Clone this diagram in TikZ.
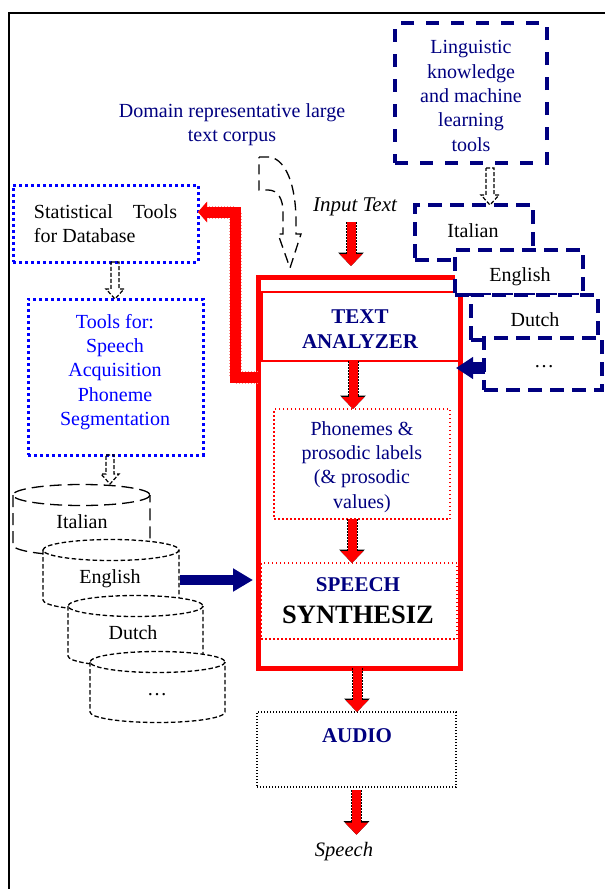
\documentclass[tikz,border=0pt]{standalone}
\usepackage{fontspec}
\setmainfont{Liberation Serif}
\usetikzlibrary{arrows.meta,calc}
\definecolor{navy}{RGB}{0,0,128}
\definecolor{brightblue}{RGB}{0,0,255}

% hollow dashed block arrow pointing down, from #1 to the height of #2
\newcommand\hollowdown[2]{%
  \draw[hollow] let \p1=(#1), \p2=(#2) in
    (\x1-4pt,\y1) -- (\x1+4pt,\y1) -- (\x1+4pt,\y2+10pt) -- (\x1+9pt,\y2+10pt)
    -- (\x1,\y2) -- (\x1-9pt,\y2+10pt) -- (\x1-4pt,\y2+10pt) -- cycle;}

% database drum: centre x, top y, bottom y, half width, line style
\newcommand\drum[5]{%
  \fill[white] (#1-#4,#2) -- (#1-#4,#3)
     arc[start angle=180,end angle=0,x radius=#4,y radius=10.5]
     -- (#1+#4,#2)
     arc[start angle=0,end angle=-180,x radius=#4,y radius=10.5] -- cycle;
  \draw[#5] (#1-#4,#2) -- (#1-#4,#3)
     arc[start angle=180,end angle=0,x radius=#4,y radius=10.5] -- (#1+#4,#2);
  \draw[#5] (#1,#2) ellipse[x radius=#4,y radius=10.5];}

\tikzset{
  lbl/.style={inner sep=0pt, outer sep=0pt, align=center, font=\fontsize{20}{24.3}\selectfont},
  hdr/.style={lbl, text=navy, font=\fontsize{21}{24.3}\selectfont\bfseries},
  shell/.style={inner sep=0pt, outer sep=0pt},
  navydash/.style={shell, draw=navy, line width=3.7pt, dash pattern=on 13pt off 12pt},
  langbox/.style={shell, draw=navy, fill=white, line width=4pt, dash pattern=on 14pt off 8pt},
  bluedot/.style={shell, draw=brightblue, line width=3pt, dash pattern=on 3pt off 3pt},
  reddot/.style={shell, draw=red, line width=1.5pt, dash pattern=on 1.5pt off 2.5pt},
  blackdot/.style={shell, draw=black, line width=1.3pt, dash pattern=on 1.3pt off 1.7pt},
  redframe/.style={shell, draw=red, line width=5pt},
  hollow/.style={draw=black, line width=1.2pt, dash pattern=on 4pt off 2pt},
  corpusdash/.style={draw=black, line width=1.3pt, dash pattern=on 10pt off 6pt},
  longdash/.style={draw=black, line width=1.3pt, dash pattern=on 12pt off 6pt},
  shortdash/.style={draw=black, line width=1.3pt, dash pattern=on 4.5pt off 2.5pt},
  redblk/.style={draw=red, line width=9pt, -{Triangle[length=12pt,width=22pt]},
     preaction={draw=black, line width=11pt, dash pattern=on 1.5pt off 1.5pt,
                -{Triangle[length=13.5pt,width=25pt]}}},
  navyblk/.style={draw=navy, line width=10pt, -{Triangle[length=20pt,width=22pt]}},
  redbend/.style={draw=red, line width=11pt, -{Triangle[length=9pt,width=20pt]},
     preaction={draw=red!45, line width=13pt, dash pattern=on 1.5pt off 1.5pt}},
}

\begin{document}
\begin{tikzpicture}[x=1pt,y=-1pt]
\useasboundingbox (0,0) rectangle (605,889);

% page frame
\draw[line width=1.6pt] (9,889) -- (9,13) -- (605,13);

% linguistic knowledge
\node[navydash, minimum width=152pt, minimum height=140pt] (ling) at (471,93) {};
\node[lbl, text=navy] (lingT) at (471,96) {Linguistic\\knowledge\\and machine\\learning\\tools};

% text corpus and its arrow
\node[lbl, text=navy] (dom) at (232,125) {Domain representative large\\text corpus};
\draw[corpusdash] (259,157) -- (270,157) .. controls (286,160) and (296,185) .. (296,222)
  -- (296,234) -- (301,234) -- (290,268) -- (278,234) -- (283,234) -- (283,212)
  .. controls (283,199) and (278,190) .. (268,190) -- (259,190) -- cycle;

\node[lbl, font=\fontsize{21}{24}\selectfont\itshape] (inp) at (355,207) {Input Text};

% database tools
\node[bluedot, minimum width=185pt, minimum height=77pt] (stat) at (105.5,223.5) {};
\node[lbl, align=left, anchor=west] (statT) at (34,223.5)
  {\makebox[143pt][l]{Statistical\hfill Tools}\\for Database};
\node[bluedot, minimum width=175pt, minimum height=156pt] (tools) at (115.5,377) {};
\node[lbl, text=brightblue] (toolsT) at (115,372)
  {Tools for:\\Speech\\Acquisition\\Phoneme\\Segmentation};

% synthesis system
\node[redframe, minimum width=202pt, minimum height=391pt] (sys) at (359,472.5) {};
\node[shell, draw=red, line width=2.5pt, minimum width=198pt, minimum height=69pt] (ta) at (361,326.5) {};
\node[hdr] (taT) at (360,329) {TEXT\\ANALYZER};
\node[reddot, minimum width=176pt, minimum height=110pt] (ph) at (362,464) {};
\node[lbl, text=navy] (phT) at (362,467)
  {Phonemes \&\\prosodic labels\\(\& prosodic\\values)};
\node[reddot, minimum width=196pt, minimum height=76pt] (syn) at (359,601) {};
\node[hdr] (synA) at (358,585) {SPEECH};
\node[lbl, font=\fontsize{26.5}{30}\selectfont\bfseries] (synB) at (358,615) {SYNTHESIZ};

\node[blackdot, minimum width=199pt, minimum height=75pt] (aud) at (356.5,749.5) {};
\node[hdr] (audT) at (357,736) {AUDIO};
\node[lbl, font=\fontsize{20.5}{24}\selectfont\itshape] (out) at (344,852) {Speech};

% processing flow
\coordinate (inA) at (351,222);
\draw[redblk, shorten >=11pt] (inA) -- (inA |- sys.north);
\draw[redblk] ([xshift=-8pt]ta.south) -- ([xshift=-8pt]ta.south |- ph.north);
\draw[redblk] ([xshift=-10pt]ph.south) -- ([xshift=-10pt]ph.south |- syn.north);
\draw[redblk] ([xshift=-2pt]sys.south) -- ([xshift=-2pt]sys.south |- aud.north);
\draw[redblk, shorten >=8pt] ([yshift=-3pt]aud.south) -- (aud.south |- out.north);

% feedback to statistical tools
\coordinate (bendLow) at (235,377);
\coordinate (bendHigh) at (235,212);
\draw[redbend] (sys.west |- bendLow) -- (bendLow) -- (bendHigh) -- (stat.east |- bendHigh);

% language resources
\node[langbox, minimum width=118pt, minimum height=55pt] (it) at (474,232.5) {};
\node[lbl] (itT) at (473,231) {Italian};
\node[langbox, minimum width=128pt, minimum height=45pt] (en) at (519,272.5) {};
\node[lbl] (enT) at (520,277) {English};
\node[langbox, minimum width=127pt, minimum height=45pt] (du) at (534.5,317.5) {};
\node[lbl] (duT) at (535,320) {Dutch};
\node[langbox, minimum width=118pt, minimum height=52pt] (more) at (543,364) {};
\node[lbl] (moreT) at (544,367) {…};

\coordinate (moreL) at (485,368);
\draw[navyblk, line width=12pt, -{Triangle[length=17pt,width=21pt]}, shorten >=-4pt]
  (moreL) -- (sys.east |- moreL);

% small hollow arrows
\coordinate (itTop) at (110,484);
\hollowdown{[xshift=9.5pt]stat.south}{tools.north}
\hollowdown{[xshift=-5.5pt]tools.south}{itTop}
\hollowdown{[xshift=19pt,yshift=-5pt]ling.south}{it.north}

% speech databases
\drum{81.5}{495}{545}{68.5}{longdash}
\node[lbl] (cIt) at (82,522) {Italian};
\drum{111}{550}{600}{68}{shortdash}
\node[lbl] (cEn) at (110,579) {English};
\drum{135.5}{606}{656}{67.5}{shortdash}
\node[lbl] (cDu) at (133,633) {Dutch};
\drum{157.5}{662}{712}{67.5}{shortdash}
\node[lbl] (cMore) at (157,695) {…};

\coordinate (engR) at (180,580);
\draw[navyblk, shorten >=5pt] (engR) -- (sys.west |- engR);

\end{tikzpicture}
\end{document}
